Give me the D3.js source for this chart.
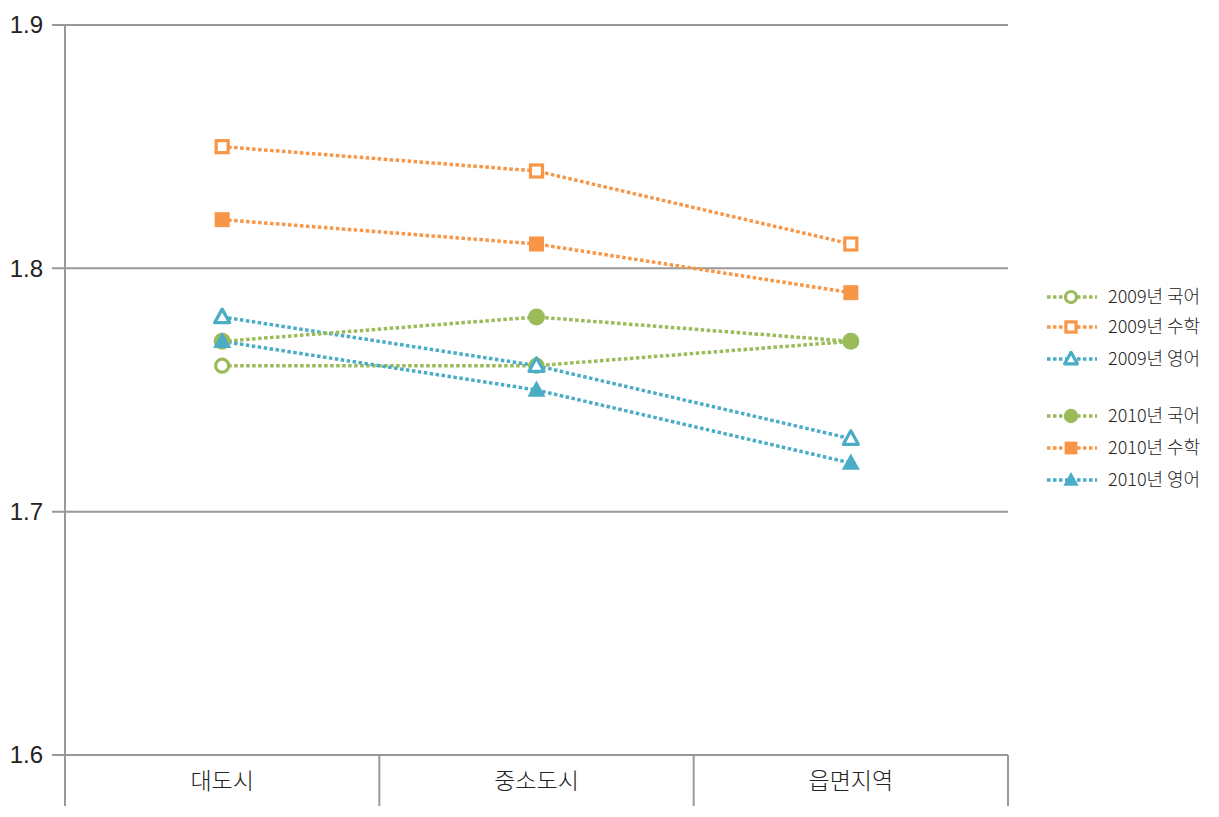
<!DOCTYPE html>
<html><head><meta charset="utf-8">
<script src="https://cdn.jsdelivr.net/npm/d3@7"></script>
<style>body{margin:0;background:#fff;} svg{display:block;font-family:"Noto Sans CJK KR","Noto Sans",sans-serif;}</style>
</head><body>
<script>
const categories = ["대도시", "중소도시", "읍면지역"];
const yTicks = [1.6, 1.7, 1.8, 1.9];
const seriesNames = ["2009년 국어", "2009년 수학", "2009년 영어", "2010년 국어", "2010년 수학", "2010년 영어"];
const kor2009 = [1.76, 1.76, 1.77];
const math2009 = [1.85, 1.84, 1.81];
const eng2009 = [1.78, 1.76, 1.73];
const kor2010 = [1.77, 1.78, 1.77];
const math2010 = [1.82, 1.81, 1.79];
const eng2010 = [1.77, 1.75, 1.72];

const green = "#9bbb59", orange = "#f79646", blue = "#4bacc6";
const series = [
  {name: seriesNames[0], values: kor2009, color: green, shape: "circle", filled: false},
  {name: seriesNames[1], values: math2009, color: orange, shape: "square", filled: false},
  {name: seriesNames[2], values: eng2009, color: blue, shape: "triangle", filled: false},
  {name: seriesNames[3], values: kor2010, color: green, shape: "circle", filled: true},
  {name: seriesNames[4], values: math2010, color: orange, shape: "square", filled: true},
  {name: seriesNames[5], values: eng2010, color: blue, shape: "triangle", filled: true}
];

const W = 1219, H = 817;
const svg = d3.select("body").append("svg").attr("width", W).attr("height", H);
const pL = 65, pR = 1008, pT = 25, pB = 755;
const x = d3.scaleBand().domain(categories).range([pL, pR]);
const y = d3.scaleLinear().domain([1.6, 1.9]).range([pB, pT]);
const gray = "#999999";

// gridlines
svg.append("g").selectAll("line").data(yTicks).join("line")
  .attr("x1", pL - 13).attr("x2", pR)
  .attr("y1", d => y(d)).attr("y2", d => y(d))
  .attr("stroke", gray).attr("stroke-width", 2);
// y axis line
svg.append("line").attr("x1", pL).attr("x2", pL).attr("y1", pT).attr("y2", 806)
  .attr("stroke", gray).attr("stroke-width", 2);
// category separators (incl. right end)
svg.append("g").selectAll("line").data(categories).join("line")
  .attr("x1", d => x(d) + x.bandwidth()).attr("x2", d => x(d) + x.bandwidth())
  .attr("y1", pB).attr("y2", 806)
  .attr("stroke", gray).attr("stroke-width", 2);
// y tick labels
svg.append("g").selectAll("text").data(yTicks).join("text")
  .attr("x", 43).attr("y", d => y(d)).attr("dy", "0.35em")
  .attr("text-anchor", "end").attr("font-size", 24).attr("font-weight", 300)
  .attr("font-family", "'Liberation Sans', Arial, sans-serif").attr("fill", "#222")
  .text(d => d.toFixed(1));
// category labels
svg.append("g").selectAll("text").data(categories).join("text")
  .attr("x", d => x(d) + x.bandwidth() / 2).attr("y", 781).attr("dy", "0.35em")
  .attr("text-anchor", "middle").attr("font-size", 23).attr("font-weight", 300).attr("fill", "#222")
  .text(d => d);

function drawMarker(g, s, cx, cy, scale) {
  const k = scale || 1;
  if (s.shape === "circle") {
    const r = s.filled ? 8.5 * k : 6.5 * k;
    g.append("circle").attr("cx", cx).attr("cy", cy).attr("r", r)
      .attr("fill", s.filled ? s.color : "#fff").attr("stroke", s.color)
      .attr("stroke-width", s.filled ? 0 : 3.2);
  } else if (s.shape === "square") {
    const a = s.filled ? 15 * k : 12 * k;
    g.append("rect").attr("x", cx - a / 2).attr("y", cy - a / 2).attr("width", a).attr("height", a)
      .attr("fill", s.filled ? s.color : "#fff").attr("stroke", s.color)
      .attr("stroke-width", s.filled ? 0 : 3.2);
  } else {
    const sz = s.filled ? 9 * k : 7.5 * k;
    const pts = [[cx, cy - sz * 1.05], [cx + sz, cy + sz * 0.75], [cx - sz, cy + sz * 0.75]];
    g.append("path").attr("d", "M" + pts.map(p => p.join(",")).join("L") + "Z")
      .attr("fill", s.filled ? s.color : "#fff").attr("stroke", s.color)
      .attr("stroke-width", s.filled ? 0 : 3.2).attr("stroke-linejoin", "round");
  }
}

const line = d3.line().x((d, i) => x(categories[i]) + x.bandwidth() / 2).y(d => y(d));
const gl = svg.append("g");
series.forEach(s => {
  gl.append("path").attr("d", line(s.values)).attr("fill", "none")
    .attr("stroke", s.color).attr("stroke-width", 3.5).attr("stroke-dasharray", "3.5,2.5");
});
series.forEach(s => {
  const g = svg.append("g");
  s.values.forEach((v, i) => drawMarker(g, s, x(categories[i]) + x.bandwidth() / 2, y(v), 1));
});

// legend
const legY = [297, 327, 359, 416, 448, 480];
const lg = svg.append("g");
series.forEach((s, i) => {
  const cy = legY[i];
  lg.append("line").attr("x1", 1047).attr("x2", 1097).attr("y1", cy).attr("y2", cy)
    .attr("stroke", s.color).attr("stroke-width", 3.5).attr("stroke-dasharray", "3.5,2.5");
  drawMarker(lg, s, 1071, cy, 0.85);
  lg.append("text").attr("x", 1108).attr("y", cy).attr("dy", "0.35em")
    .attr("font-size", 18).attr("font-weight", 300).attr("fill", "#222").text(s.name);
});
</script>
</body></html>
